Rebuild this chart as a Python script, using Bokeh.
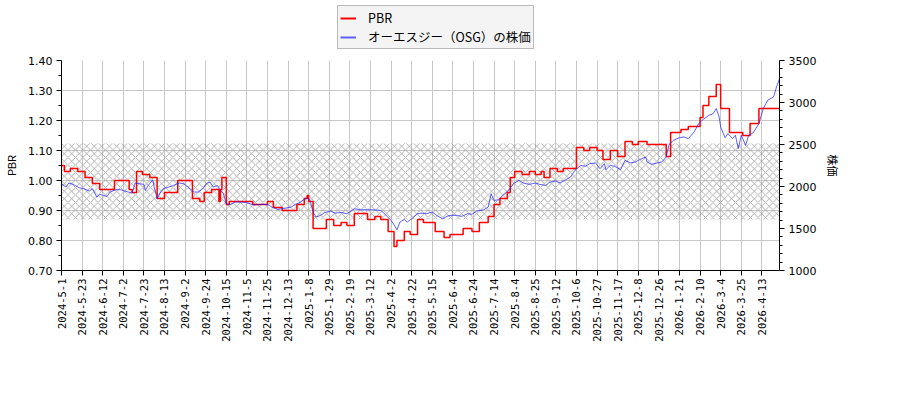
import math
from bokeh.plotting import figure
from bokeh.layouts import column
from bokeh.models import (Range1d, LinearAxis, FixedTicker, PrintfTickFormatter,
                          Legend, LegendItem)
from bokeh.embed import file_html
from bokeh.resources import INLINE

# ---------------- data (x = trading-day index from 2024-5-1) ----------------
tick_labels = ["2024-5-1", "2024-5-23", "2024-6-12", "2024-7-2", "2024-7-23", "2024-8-13",
               "2024-9-2", "2024-9-24", "2024-10-15", "2024-11-5", "2024-11-25", "2024-12-13",
               "2025-1-8", "2025-1-29", "2025-2-19", "2025-3-12", "2025-4-2", "2025-4-22",
               "2025-5-15", "2025-6-4", "2025-6-24", "2025-7-14", "2025-8-4", "2025-8-25",
               "2025-9-12", "2025-10-6", "2025-10-27", "2025-11-17", "2025-12-8", "2025-12-26",
               "2026-1-21", "2026-2-10", "2026-3-4", "2026-3-25", "2026-4-13"]
tick_every = 14  # trading days between labels

pbr_ticks = [0.70, 0.80, 0.90, 1.00, 1.10, 1.20, 1.30, 1.40]
pbr_minor = [0.75, 0.85, 0.95, 1.05, 1.15, 1.25, 1.35]
price_ticks = [1000, 1500, 2000, 2500, 3000, 3500]

price_idx = [0, 3, 5, 8, 12, 15, 19, 21, 24, 26, 31, 33, 37, 40, 43, 48, 50, 53, 56, 57,
             59, 62, 63, 65, 67, 69, 73, 76, 80, 83, 86, 90, 93, 96, 99, 101, 103, 106, 108, 110,
             112, 115, 118, 122, 126, 131, 135, 140, 143, 147, 151, 156, 159, 162, 165, 167, 169, 171, 173, 176,
             179, 183, 186, 190, 194, 199, 203, 208, 212, 217, 220, 224, 226, 228, 230, 233, 235, 238, 242, 245,
             248, 252, 255, 259, 262, 264, 269, 272, 276, 279, 282, 287, 290, 292, 294, 297, 300, 304, 307, 311,
             314, 318, 322, 325, 329, 332, 336, 339, 342, 346, 349, 353, 356, 359, 363, 366, 369, 370, 373, 376,
             380, 383, 387, 390, 393, 397, 398, 401, 405, 408, 411, 413, 416, 420, 423, 426, 430, 433, 436, 440,
             443, 445, 447, 448, 451, 453, 456, 458, 460, 462, 465, 467, 470, 474, 477, 480, 484, 486, 488]
price_val = [2033, 1993, 2041, 2025, 1985, 1974, 1946, 1974, 1874, 1906, 1882, 1934, 1962, 1962, 1946, 1922, 2041, 2033, 2025, 1954,
             2013, 2081, 1993, 1854, 1922, 1974, 1993, 2013, 2041, 2033, 1993, 1934, 1934, 1974, 2041, 2053, 1993, 2013, 1954, 1914,
             1795, 1787, 1815, 1815, 1807, 1779, 1787, 1787, 1755, 1727, 1739, 1755, 1787, 1811, 1846, 1866, 1834, 1695, 1636, 1656,
             1691, 1707, 1683, 1691, 1676, 1735, 1723, 1723, 1723, 1715, 1668, 1596, 1544, 1485, 1576, 1608, 1576, 1616, 1676, 1683,
             1676, 1695, 1656, 1616, 1644, 1656, 1656, 1644, 1676, 1668, 1707, 1723, 1755, 1914, 1834, 1842, 1894, 1954, 2033, 2073,
             2041, 2025, 2041, 2025, 2013, 2053, 2065, 2041, 2073, 2113, 2192, 2252, 2240, 2272, 2280, 2212, 2272, 2200, 2252, 2240,
             2200, 2311, 2280, 2292, 2320, 2351, 2292, 2264, 2280, 2292, 2351, 2502, 2550, 2582, 2590, 2570, 2649, 2749, 2796, 2848,
             2868, 2928, 2828, 2709, 2582, 2630, 2570, 2610, 2451, 2610, 2490, 2610, 2637, 2749, 2928, 3027, 3067, 3186, 3285]

pbr_idx = [0, 2, 6, 11, 16, 21, 26, 36, 46, 48, 51, 55, 60, 65, 70, 79, 89, 94, 97, 102,
           107, 108, 109, 112, 114, 130, 140, 144, 150, 160, 165, 167, 168, 171, 180, 185, 190, 194, 199, 208,
           213, 217, 222, 226, 228, 233, 237, 242, 246, 254, 260, 264, 273, 279, 284, 290, 294, 298, 303, 305,
           308, 313, 318, 322, 326, 328, 332, 337, 341, 350, 355, 359, 364, 368, 373, 378, 383, 388, 392, 398,
           411, 414, 421, 426, 434, 436, 440, 445, 448, 454, 463, 468, 474]
pbr_val = [1.05, 1.03, 1.04, 1.03, 1.01, 0.99, 0.97, 1.00, 0.97, 0.96, 1.03, 1.02, 1.01, 0.94, 0.96, 1.00, 0.94, 0.93, 0.96, 0.97,
           0.93, 0.97, 1.01, 0.92, 0.93, 0.92, 0.93, 0.91, 0.90, 0.92, 0.94, 0.95, 0.93, 0.84, 0.87, 0.85, 0.86, 0.85, 0.89, 0.87,
           0.88, 0.87, 0.83, 0.78, 0.80, 0.83, 0.82, 0.87, 0.86, 0.83, 0.81, 0.82, 0.84, 0.83, 0.86, 0.88, 0.92, 0.94, 0.96, 1.01,
           1.03, 1.02, 1.03, 1.02, 1.03, 1.01, 1.04, 1.03, 1.04, 1.11, 1.10, 1.11, 1.10, 1.07, 1.10, 1.08, 1.13, 1.12, 1.13, 1.12,
           1.08, 1.16, 1.17, 1.18, 1.21, 1.25, 1.28, 1.32, 1.24, 1.16, 1.15, 1.19, 1.24]

band_low = 0.870
band_high = 1.123

pbr_range = (0.70, 1.40)
price_range = (1000, 3500)

series_names = ["PBR", "オーエスジー（OSG）の株価"]
pbr_color = "red"
price_color = "#2020ff"

# ---------------- main figure ----------------
x_start, x_end = price_idx[0], price_idx[-1]
p = figure(frame_width=718, frame_height=210, output_backend="svg", toolbar_location=None,
           x_range=Range1d(x_start, x_end), y_range=Range1d(*pbr_range),
           min_border_left=53, min_border_top=8, min_border_right=10, min_border_bottom=10)
p.extra_y_ranges = {"price": Range1d(*price_range)}
p.outline_line_color = None

# hatched band
p.quad(left=[x_start], right=[x_end], bottom=[band_low], top=[band_high],
       fill_color=None, line_color=None, hatch_pattern="x", hatch_color="#858585",
       hatch_scale=7.5, hatch_weight=0.75, hatch_alpha=0.9)

# series
pbr_x = pbr_idx + [x_end]
pbr_y = pbr_val + [pbr_val[-1]]
p.step(pbr_x, pbr_y, mode="after", line_color=pbr_color, line_width=1.5)
p.line(price_idx, price_val, y_range_name="price", line_color=price_color,
       line_width=0.8, line_alpha=0.9)

# axes
xa = p.xaxis[0]
ticks = [tick_every * k for k in range(len(tick_labels))]
xa.ticker = FixedTicker(ticks=ticks, minor_ticks=[])
xa.major_label_overrides = {t: lab for t, lab in zip(ticks, tick_labels)}
xa.major_label_orientation = math.pi / 2
xa.major_label_text_font = "DejaVu Sans Mono"
xa.major_label_text_font_size = "10.5px"
xa.major_label_standoff = 3

ya = p.yaxis[0]
ya.ticker = FixedTicker(ticks=pbr_ticks, minor_ticks=pbr_minor)
ya.formatter = PrintfTickFormatter(format="%.2f")
ya.axis_label = "PBR"

price_minor = [v for v in range(price_range[0], price_range[1], 100) if v not in price_ticks]
ra = LinearAxis(y_range_name="price", axis_label="株価",
                ticker=FixedTicker(ticks=price_ticks, minor_ticks=price_minor))
p.add_layout(ra, "right")

for ax in (xa, ya, ra):
    ax.axis_line_color = "black"
    ax.major_tick_line_color = "black"
    ax.minor_tick_line_color = "black"
    ax.major_tick_in = 0
    ax.major_tick_out = 5
    ax.minor_tick_in = 0
    ax.minor_tick_out = 3
    ax.major_label_text_color = "black"
    ax.axis_label_text_color = "black"
    ax.axis_label_text_font_style = "normal"
    ax.axis_label_text_font_size = "11px"
    ax.axis_label_text_font = "Noto Sans CJK JP"
for ax in (ya, ra):
    ax.major_label_text_font = "DejaVu Sans"
    ax.major_label_text_font_size = "11px"
    ax.major_label_standoff = 4
    ax.axis_label_standoff = 6

p.xgrid.grid_line_color = "#c8c8c8"
p.ygrid.grid_line_color = "#c8c8c8"

# ---------------- legend strip above ----------------
lg = figure(frame_width=718, frame_height=52, output_backend="svg", toolbar_location=None,
            x_axis_location=None, y_axis_location=None,
            x_range=Range1d(x_start, x_end), y_range=Range1d(*pbr_range),
            min_border_left=53, min_border_right=10, min_border_top=0, min_border_bottom=0)
lg.outline_line_color = None
lg.xgrid.visible = False
lg.ygrid.visible = False
# legend proxies: a single data point each, so nothing is drawn in this strip
d1 = lg.line(pbr_x[:1], pbr_y[:1], line_color=pbr_color, line_width=2)
d2 = lg.line(pbr_x[:1], pbr_y[:1], line_color=price_color, line_width=2, line_alpha=0.7)
legend = Legend(items=[LegendItem(label=series_names[0], renderers=[d1]),
                       LegendItem(label=series_names[1], renderers=[d2])],
                location=(276, 3), orientation="vertical",
                label_text_font="Noto Sans CJK JP", label_text_font_size="12.5px",
                label_text_color="black", label_height=14, label_standoff=12,
                glyph_width=16, glyph_height=14, spacing=0, padding=2, margin=0,
                background_fill_color="#f4f4f4", background_fill_alpha=1,
                border_line_color="#808080", border_line_width=1)
lg.add_layout(legend, "center")

layout = column(lg, p, spacing=0)
open("out.html", "w").write(file_html(layout, INLINE))
